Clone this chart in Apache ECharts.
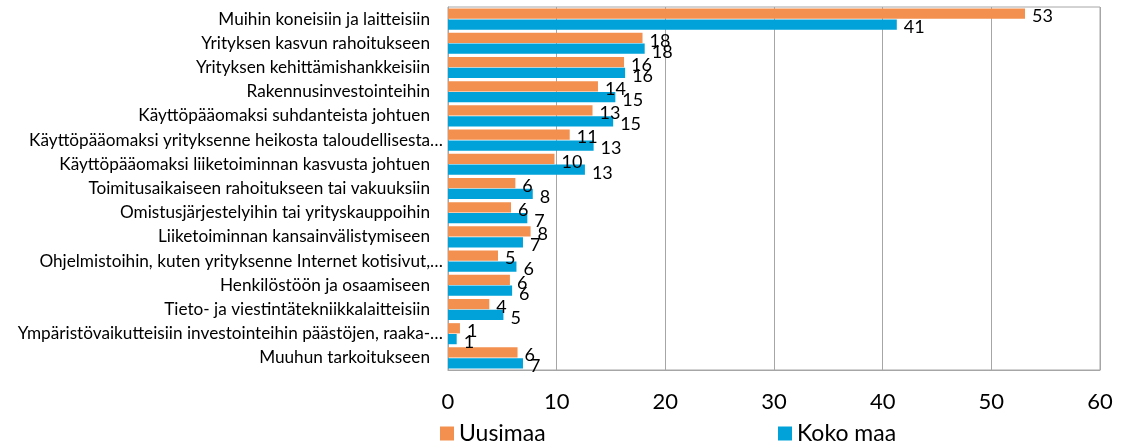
<!DOCTYPE html>
<html>
<head>
<meta charset="utf-8">
<script src="https://cdn.jsdelivr.net/npm/echarts@6/dist/echarts.min.js"></script>
<style>
  html, body { margin: 0; padding: 0; background: #fff; }
  #chart { width: 1130px; height: 448px; }
</style>
</head>
<body>
<div id="chart"></div>
<script>
// kategoriat ylhäältä alas
const categories = [
  'Muihin koneisiin ja laitteisiin',
  'Yrityksen kasvun rahoitukseen',
  'Yrityksen kehittämishankkeisiin',
  'Rakennusinvestointeihin',
  'Käyttöpääomaksi suhdanteista johtuen',
  'Käyttöpääomaksi yrityksenne heikosta taloudellisesta…',
  'Käyttöpääomaksi liiketoiminnan kasvusta johtuen',
  'Toimitusaikaiseen rahoitukseen tai vakuuksiin',
  'Omistusjärjestelyihin tai yrityskauppoihin',
  'Liiketoiminnan kansainvälistymiseen',
  'Ohjelmistoihin, kuten yrityksenne Internet kotisivut,…',
  'Henkilöstöön ja osaamiseen',
  'Tieto- ja viestintätekniikkalaitteisiin',
  'Ympäristövaikutteisiin investointeihin päästöjen, raaka-…',
  'Muuhun tarkoitukseen'
]
const uusimaa = [53.1, 17.9, 16.2, 13.8, 13.3, 11.2, 9.8, 6.2, 5.8, 7.6, 4.6, 5.7, 3.8, 1.1, 6.4]
const kokoMaa = [41.3, 18.1, 16.3, 15.4, 15.2, 13.4, 12.6, 7.8, 7.3, 6.9, 6.3, 5.9, 5.1, 0.8, 6.9]
const xTicks = { min: 0, max: 60, interval: 10 }

const FONT = 'Lato'

const chart = echarts.init(document.getElementById('chart'))

const valueLabel = {
  show: true,
  position: 'right',
  distance: 7,
  offset: [0, 3],
  color: '#000',
  fontFamily: FONT,
  fontSize: 18,
  formatter: p => Math.round(p.value)
}

const legendText = { fontFamily: FONT, fontSize: 23, color: '#000' }

chart.setOption({
  animation: false,
  textStyle: { fontFamily: FONT },
  grid: {
    left: 448, right: 30, top: 7, bottom: 78,
    show: true, borderColor: '#a6a6a6', borderWidth: 1
  },
  legend: [
    {
      data: ['Uusimaa'], left: 435, top: 417,
      itemWidth: 14, itemHeight: 14, icon: 'rect', itemGap: 8,
      textStyle: legendText
    },
    {
      data: ['Koko maa'], left: 773, top: 417,
      itemWidth: 14, itemHeight: 14, icon: 'rect', itemGap: 8,
      textStyle: legendText
    }
  ],
  xAxis: {
    type: 'value',
    min: xTicks.min, max: xTicks.max, interval: xTicks.interval,
    axisLine: { show: true, lineStyle: { color: '#a6a6a6' } },
    axisTick: { show: false },
    splitLine: { lineStyle: { color: '#a6a6a6' } },
    axisLabel: { color: '#000', fontSize: 22, fontFamily: FONT, margin: 21 }
  },
  yAxis: {
    type: 'category',
    data: categories,
    inverse: true,
    axisLine: { show: true, lineStyle: { color: '#a6a6a6' } },
    axisTick: { show: false },
    axisLabel: {
      color: '#000', fontSize: 17.2, fontFamily: FONT, margin: 5,
      formatter: v => v.endsWith('…') ? v : '{p|' + v + '}',
      rich: { p: { padding: [0, 13, 0, 0], fontSize: 17.2, fontFamily: FONT, color: '#000' } }
    }
  },
  series: [
    {
      name: 'Uusimaa', type: 'bar', data: uusimaa,
      itemStyle: { color: '#f3904f' },
      barCategoryGap: '13%', barGap: '6%',
      label: valueLabel
    },
    {
      name: 'Koko maa', type: 'bar', data: kokoMaa,
      itemStyle: { color: '#00a2d9' },
      label: valueLabel
    }
  ]
})
</script>
</body>
</html>
